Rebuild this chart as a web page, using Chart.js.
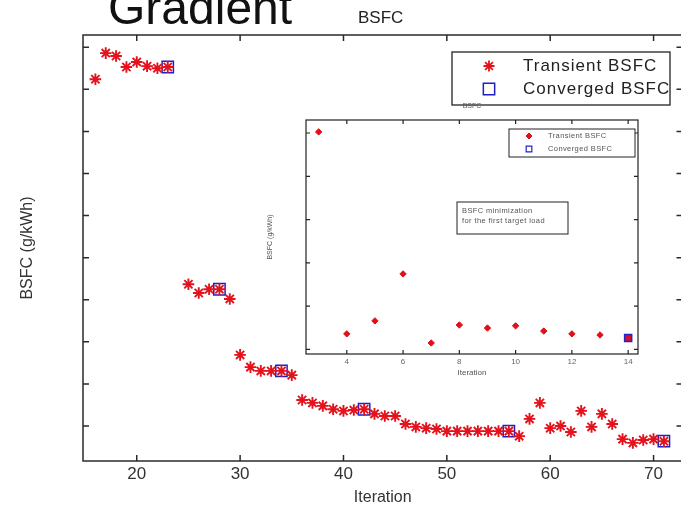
<!DOCTYPE html>
<html>
<head>
<meta charset="utf-8">
<script src="https://cdn.jsdelivr.net/npm/chart.js@4.4.1/dist/chart.umd.min.js"></script>
<style>
html, body { margin: 0; padding: 0; background: #fff; overflow: hidden; }
#wrap { position: relative; width: 681px; height: 511px; overflow: hidden; }
#main { position: absolute; left: 0; top: 0; }
#inset { position: absolute; left: 255px; top: 96px; }
.hd { position: absolute; font-family: "Liberation Sans", Arial, sans-serif; color: #111; white-space: nowrap; }
#slideTitle { left: 108px; top: -16px; font-size: 48px; line-height: 48px; }
#plotTitle { left: 358px; top: 9px; font-size: 17px; line-height: 17px; color: #222; }
</style>
</head>
<body>
<div id="wrap">
  <canvas id="main" width="692" height="511"></canvas>
  <canvas id="inset" width="390" height="290"></canvas>
  <div class="hd" id="slideTitle">Gradient</div>
  <div class="hd" id="plotTitle">BSFC</div>
</div>
<script>
// main run (no y labels in the source, values are relative)
const iterations = [16,17,18,19,20,21,22,23,25,26,27,28,29,30,31,32,33,34,35,36,37,38,39,40,41,42,43,44,45,46,47,48,49,50,51,52,53,54,55,56,57,58,59,60,61,62,63,64,65,66,67,68,69,70,71];
const transientBsfc = [233.24,233.86,233.79,233.53,233.65,233.55,233.50,233.53,228.37,228.16,228.25,228.25,228.02,226.69,226.40,226.31,226.31,226.31,226.21,225.62,225.55,225.48,225.40,225.36,225.38,225.40,225.29,225.24,225.24,225.05,224.98,224.95,224.93,224.88,224.88,224.88,224.88,224.88,224.88,224.88,224.76,225.17,225.55,224.95,225.00,224.86,225.36,224.98,225.29,225.05,224.69,224.60,224.67,224.69,224.64];
const convergedIter = [23,28,34,42,56,71];
const convergedBsfc = [233.53,228.25,226.31,225.40,224.88,224.64];
const xTicks = [20,30,40,50,60,70];
const yTicks = [225,226,227,228,229,230,231,232,233,234];

// inset: first target load
const insetIter = [3,4,5,6,7,8,9,10,11,12,13];
const insetBsfc = [238.05,228.72,229.32,231.49,228.30,229.13,228.99,229.09,228.85,228.72,228.67];
const insetConvIter = [14];
const insetConvBsfc = [228.53];
const insetXTicks = [4,6,8,10,12,14];
const insetYTicks = [228,230,232,234,236,238];

const FONT = '"Liberation Sans", Arial, sans-serif';

function pts(xs, ys) {
  return xs.map((v, i) => ({x: v, y: ys[i]}));
}

const framePlugin = {
  id: 'frame',
  beforeDatasetsDraw(chart, args, o) {
    const {ctx, chartArea: a, scales} = chart;
    ctx.save();
    ctx.strokeStyle = o.color;
    ctx.lineWidth = o.width;
    ctx.strokeRect(a.left, a.top, a.right - a.left, a.bottom - a.top);
    ctx.beginPath();
    scales.x.ticks.forEach(t => {
      const p = scales.x.getPixelForValue(t.value);
      ctx.moveTo(p, a.bottom); ctx.lineTo(p, a.bottom - o.tick);
      ctx.moveTo(p, a.top); ctx.lineTo(p, a.top + o.tick);
    });
    scales.y.ticks.forEach(t => {
      const p = scales.y.getPixelForValue(t.value);
      ctx.moveTo(a.left, p); ctx.lineTo(a.left + o.tick, p);
      ctx.moveTo(a.right, p); ctx.lineTo(a.right - o.tick, p);
    });
    ctx.stroke();
    ctx.restore();
  }
};

function marker(ctx, m, x, y) {
  ctx.save();
  ctx.strokeStyle = m.stroke;
  ctx.fillStyle = m.fill || 'rgba(0,0,0,0)';
  ctx.lineWidth = m.lw;
  if (Chart.helpers && Chart.helpers.drawPoint) {
    Chart.helpers.drawPoint(ctx, {pointStyle: m.style, radius: m.r, borderWidth: m.lw, rotation: 0}, x, y);
  } else {
    ctx.strokeRect(x - m.r * 0.7, y - m.r * 0.7, m.r * 1.4, m.r * 1.4);
  }
  ctx.restore();
}

const boxPlugin = {
  id: 'boxes',
  afterDraw(chart, args, o) {
    const ctx = chart.ctx;
    (o.items || []).forEach(b => {
      ctx.save();
      ctx.fillStyle = '#fff';
      ctx.fillRect(b.x, b.y, b.w, b.h);
      ctx.strokeStyle = o.color;
      ctx.lineWidth = o.width;
      ctx.strokeRect(b.x, b.y, b.w, b.h);
      b.rows.forEach(r => {
        if (r.marker) marker(ctx, r.marker, b.markerX, r.y);
        ctx.font = b.font;
        ctx.fillStyle = b.color;
        ctx.textBaseline = 'middle';
        if ('letterSpacing' in ctx) ctx.letterSpacing = b.spacing || '0px';
        ctx.fillText(r.text, b.textX, r.y);
      });
      ctx.restore();
    });
  }
};

const starStyle = {style: 'star', r: 5.5, lw: 1.8, stroke: '#e3121c'};
const squareStyle = {style: 'rect', r: 8, lw: 1.5, stroke: '#1f1fc4'};

new Chart(document.getElementById('main'), {
  type: 'scatter',
  data: {
    datasets: [{
      label: 'Transient BSFC',
      data: pts(iterations, transientBsfc),
      pointStyle: 'star',
      pointRadius: 5.8,
      borderWidth: 1.9,
      borderColor: '#e3121c',
      backgroundColor: '#e3121c'
    }, {
      label: 'Converged BSFC',
      data: pts(convergedIter, convergedBsfc),
      pointStyle: 'rect',
      pointRadius: 8,
      borderWidth: 1.5,
      borderColor: '#1f1fc4',
      backgroundColor: 'rgba(0,0,0,0)'
    }]
  },
  options: {
    responsive: false,
    animation: false,
    layout: { padding: { top: 35, right: 5, left: 0, bottom: 0 } },
    plugins: {
      legend: { display: false },
      tooltip: { enabled: false },
      frame: { color: '#2a2a2a', width: 1.5, tick: 6 },
      boxes: {
        color: '#222', width: 1.3,
        items: [{
          x: 452, y: 52, w: 218, h: 53,
          markerX: 489, textX: 523,
          font: '17px ' + FONT, color: '#222', spacing: '1px',
          rows: [
            { text: 'Transient BSFC', y: 66, marker: starStyle },
            { text: 'Converged BSFC', y: 89, marker: squareStyle }
          ]
        }]
      }
    },
    scales: {
      x: {
        type: 'linear', min: 14.8, max: 72.8,
        afterBuildTicks: s => { s.ticks = xTicks.map(v => ({value: v})); },
        afterFit: s => { s.height = 50; },
        grid: { display: false, drawTicks: false, tickLength: 0 },
        border: { display: false },
        ticks: { font: { family: FONT, size: 17 }, color: '#333', padding: 3, maxRotation: 0 },
        title: { display: true, text: 'Iteration', font: { family: FONT, size: 16 }, color: '#333', padding: { bottom: 4 } }
      },
      y: {
        type: 'linear', min: 224.17, max: 234.29,
        afterBuildTicks: s => { s.ticks = yTicks.map(v => ({value: v})); },
        afterFit: s => { s.width = 83; },
        grid: { display: false, drawTicks: false, tickLength: 0 },
        border: { display: false },
        ticks: { display: false },
        title: { display: true, text: 'BSFC (g/kWh)', font: { family: FONT, size: 16 }, color: '#333', padding: { top: 18 } }
      }
    }
  },
  plugins: [framePlugin, boxPlugin]
});

new Chart(document.getElementById('inset'), {
  type: 'scatter',
  data: {
    datasets: [{
      label: 'Transient BSFC',
      data: pts(insetIter, insetBsfc),
      pointStyle: 'rectRot',
      pointRadius: 3.2,
      borderWidth: 1,
      borderColor: '#e01019',
      backgroundColor: '#e01019'
    }, {
      label: 'Converged BSFC',
      data: pts(insetConvIter, insetConvBsfc),
      pointStyle: 'rect',
      pointRadius: 5,
      borderWidth: 1.5,
      borderColor: '#2424c0',
      backgroundColor: '#d41030'
    }]
  },
  options: {
    responsive: false,
    animation: false,
    layout: { padding: { top: 0, right: 7, left: 0, bottom: 0 } },
    plugins: {
      legend: { display: false },
      tooltip: { enabled: false },
      title: { display: true, text: 'BSFC', fullSize: false, color: '#555', font: { family: FONT, size: 7, weight: 'normal' }, padding: { top: 6, bottom: 9.6 } },
      frame: { color: '#222', width: 1.2, tick: 4 },
      boxes: {
        color: '#222', width: 1,
        items: [{
          x: 254, y: 33, w: 126, h: 28,
          markerX: 274, textX: 293,
          font: '7.5px ' + FONT, color: '#555', spacing: '0.4px',
          rows: [
            { text: 'Transient BSFC', y: 40, marker: {style: 'rectRot', r: 3, lw: 1, stroke: '#e01019', fill: '#e01019'} },
            { text: 'Converged BSFC', y: 53, marker: {style: 'rect', r: 4, lw: 1.2, stroke: '#2424c0'} }
          ]
        }, {
          x: 202, y: 106, w: 111, h: 32,
          textX: 207,
          font: '7.5px ' + FONT, color: '#555', spacing: '0.4px',
          rows: [
            { text: 'BSFC minimization', y: 115 },
            { text: 'for the first target load', y: 125 }
          ]
        }]
      }
    },
    scales: {
      x: {
        type: 'linear', min: 2.55, max: 14.35,
        afterBuildTicks: s => { s.ticks = insetXTicks.map(v => ({value: v})); },
        afterFit: s => { s.height = 32; },
        grid: { display: false, drawTicks: false, tickLength: 0 },
        border: { display: false },
        ticks: { font: { family: FONT, size: 8 }, color: '#666', padding: 3, maxRotation: 0 },
        title: { display: true, text: 'Iteration', font: { family: FONT, size: 8 }, color: '#555', padding: { bottom: 8 } }
      },
      y: {
        type: 'linear', min: 227.79, max: 238.6,
        afterBuildTicks: s => { s.ticks = insetYTicks.map(v => ({value: v})); },
        afterFit: s => { s.width = 51; },
        grid: { display: false, drawTicks: false, tickLength: 0 },
        border: { display: false },
        ticks: { display: false },
        title: { display: true, text: 'BSFC (g/kWh)', font: { family: FONT, size: 7 }, color: '#555', padding: { top: 11 } }
      }
    }
  },
  plugins: [framePlugin, boxPlugin]
});
</script>
</body>
</html>
